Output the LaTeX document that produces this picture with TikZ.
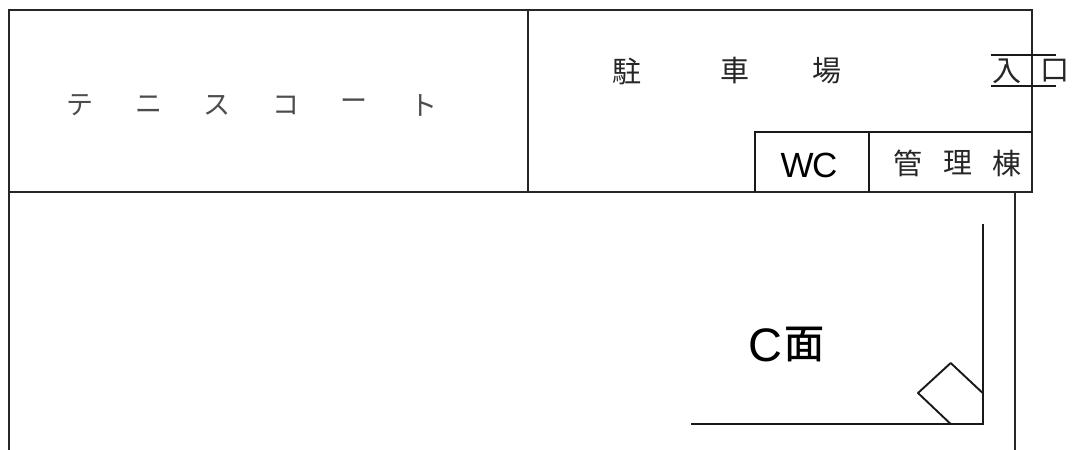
\documentclass[tikz,border=0pt]{standalone}
\usepackage{fontspec}
\setmainfont{Liberation Sans}
\newfontfamily\jp{Noto Sans CJK JP}
\newfontfamily\jpheavy[FakeBold=1.2]{Noto Sans CJK JP}
\tikzset{
  wall/.style={draw=black!85!white,line width=2pt,line cap=butt},
  thin wall/.style={draw=black!90!white,line width=1.9pt},
  kana/.style={inner sep=0pt,font=\jp\fontsize{27}{27}\selectfont,text=black!70},
  kanji/.style={inner sep=0pt,font=\jp\fontsize{29}{29}\selectfont,text=black!85},
  latin/.style={inner sep=0pt,font=\fontsize{35}{35}\selectfont,text=black}
}
\begin{document}
\begin{tikzpicture}[x=1pt,y=-1pt]
\useasboundingbox (0,0) rectangle (1072,450);
\fill[white] (0,0) rectangle (1072,450);
% site outline
\draw[wall] (8.5,450) -- (8.5,9.5) -- (1031.5,9.5) -- (1031.5,191.5) -- (8.5,191.5);
\draw[wall] (528,9.5) -- (528,191.5);
\draw[wall] (1014.7,191.5) -- (1014.7,450);
% WC and office
\draw[thin wall] (755,191.5) -- (755,131.7) -- (1031.5,131.7);
\draw[thin wall] (868.7,131.7) -- (868.7,191.5);
% entrance
\draw[thin wall] (990.7,55) -- (1056,55);
\draw[thin wall] (990.7,86) -- (1056,86);
% C court
\draw[thin wall] (982.7,224) -- (982.7,424) -- (690.7,424);
\draw[thin wall,line join=round] (982.7,393) -- (950.7,363) -- (918,393) -- (950.7,424);
% tennis court label
\node[kana] (t1) at (80,105) {テ};
\node[kana] (t2) at (149,105) {ニ};
\node[kana] (t3) at (217,105) {ス};
\node[kana] (t4) at (286,105) {コ};
\node[kana] (t5) at (354,105) {ー};
\node[kana] (t6) at (424,105) {ト};
% parking label
\node[kanji] (p1) at (627,71) {駐};
\node[kanji] (p2) at (735,71) {車};
\node[kanji] (p3) at (827,71) {場};
% entrance label
\node[kanji] (e1) at (1006.7,71) {入};
\node[kanji] (e2) at (1055,71) {口};
% WC, office
\node[latin] (wc) at (809,165.5) {W\kern-1.5pt C};
\node[kanji] (o1) at (907.7,163) {管};
\node[kanji] (o2) at (958,163) {理};
\node[kanji] (o3) at (1007,163) {棟};
% C court label
\node[latin,font=\fontsize{47}{47}\selectfont] (c) at (765,345) {C};
\node[inner sep=0pt,font=\jpheavy\fontsize{40}{40}\selectfont] (cm) at (804,344) {面};
\end{tikzpicture}
\end{document}
